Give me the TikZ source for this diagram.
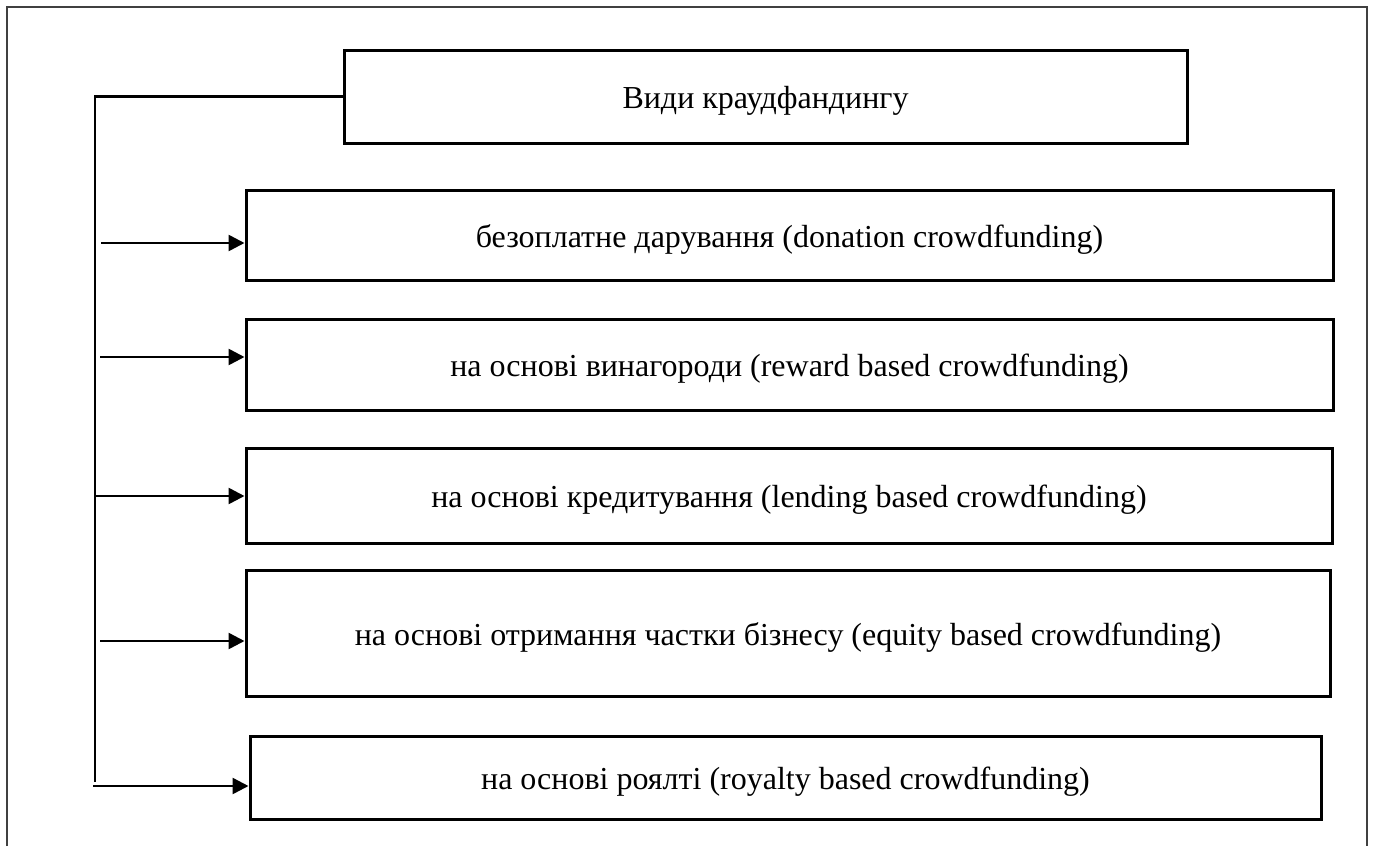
\documentclass[tikz,border=0pt]{standalone}
\usepackage{fontspec}
\setmainfont{Liberation Serif}
\usetikzlibrary{arrows.meta}
\tikzset{
  vid/.style={draw, line width=3pt, inner sep=0pt, text height=24pt, text depth=0pt,
    font=\fontsize{32}{38}\selectfont},
  arr/.style={line width=2.6pt, -{Triangle[length=16pt,width=16pt]}},
}
\begin{document}
\begin{tikzpicture}[x=1pt, y=-1pt]
    \useasboundingbox (0,0) rectangle (1375,846);
    % рамка
    \draw[line width=2.2pt, black!75] (7,846) -- (7,7) -- (1367,7) -- (1367,846);

    % заголовок
    \node[vid, minimum width=843pt, minimum height=93pt] (vydy) at (765.5,96.5) {Види краудфандингу};

    % види краудфандингу
    \node[vid, minimum width=1087pt, minimum height=90pt] (don) at (789.5,235) {безоплатне дарування (donation crowdfunding)};
    \node[vid, minimum width=1087pt, minimum height=91pt] (rew) at (789.5,364.5) {на основі винагороди (reward based crowdfunding)};
    \node[vid, minimum width=1086pt, minimum height=95pt] (len) at (789,495.5) {на основі кредитування (lending based crowdfunding)};
    \node[vid, minimum width=1084pt, minimum height=126pt] (equ) at (788,633) {на основі отримання частки бізнесу (equity based crowdfunding)};
    \node[vid, minimum width=1071pt, minimum height=83pt] (roy) at (785.5,777.5) {на основі роялті (royalty based crowdfunding)};

    % лінія зліва
    \coordinate (niz) at (95,782);
    \draw[line width=2.6pt] (vydy.west) -| (niz);

    % стрілки
    \coordinate (s1) at (101,243);
    \coordinate (s2) at (100,357);
    \coordinate (s3) at (95,496);
    \coordinate (s4) at (100,641);
    \coordinate (s5) at (93,786);
    \draw[arr] (s1) -- (s1 -| don.west);
    \draw[arr] (s2) -- (s2 -| rew.west);
    \draw[arr] (s3) -- (s3 -| len.west);
    \draw[arr] (s4) -- (s4 -| equ.west);
    \draw[arr] (s5) -- (s5 -| roy.west);
\end{tikzpicture}
\end{document}
